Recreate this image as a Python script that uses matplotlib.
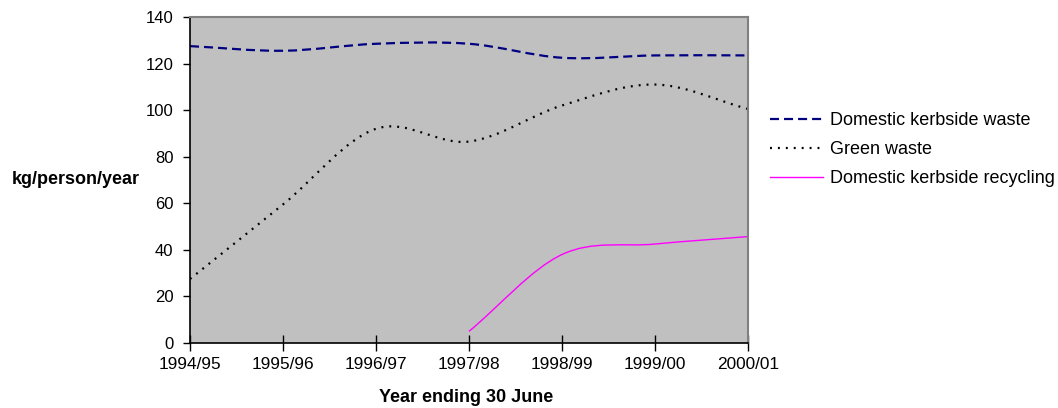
import matplotlib
matplotlib.use("Agg")
import matplotlib.pyplot as plt
from matplotlib.path import Path
from matplotlib.patches import PathPatch
from matplotlib.lines import Line2D
import numpy as np

plt.rcParams['font.family'] = ['Liberation Sans', 'DejaVu Sans']
plt.rcParams['lines.scale_dashes'] = False

years = ["1994/95", "1995/96", "1996/97", "1997/98", "1998/99", "1999/00", "2000/01"]
kerbside_waste = [127.5, 125.5, 128.5, 128.5, 122.5, 123.5, 123.5]
green_waste = [27.5, 59.5, 92.0, 86.5, 102.0, 111.0, 100.5]
recycling_years = ["1997/98", "1998/99", "1999/00", "2000/01"]
kerbside_recycling = [5.0, 38.0, 42.5, 45.7]

series_names = ["Domestic kerbside waste", "Green waste", "Domestic kerbside recycling"]


def smooth_path(xs, ys):
    xs = np.asarray(xs, float)
    ys = np.asarray(ys, float)
    n = len(xs)
    m = np.zeros(n)
    for i in range(n):
        if i == 0:
            m[i] = (ys[1] - ys[0])
        elif i == n - 1:
            m[i] = (ys[-1] - ys[-2])
        else:
            m[i] = (ys[i + 1] - ys[i - 1]) / 2
    verts = [(xs[0], ys[0])]
    codes = [Path.MOVETO]
    for i in range(n - 1):
        dx = xs[i + 1] - xs[i]
        verts += [(xs[i] + dx / 3, ys[i] + m[i] * dx / 3),
                  (xs[i + 1] - dx / 3, ys[i + 1] - m[i + 1] * dx / 3),
                  (xs[i + 1], ys[i + 1])]
        codes += [Path.CURVE4] * 3
    return Path(verts, codes)


fig = plt.figure(figsize=(10.58, 4.08), dpi=100)
ax = fig.add_axes([190 / 1058, 1 - 343 / 408, (748 - 190) / 1058, (343 - 17) / 408])
ax.set_facecolor('#C0C0C0')

x_all = np.arange(len(years))
x_rec = np.array([years.index(y) for y in recycling_years])

styles = [
    dict(color='#000080', lw=1.6, ls=(0, (6.5, 3.6))),
    dict(color='black', lw=1.6, ls=(0, (1.4, 4.3))),
    dict(color='#FF00FF', lw=1.0, ls='-'),
]

for (xs, ys), st in zip([(x_all, kerbside_waste), (x_all, green_waste), (x_rec, kerbside_recycling)], styles):
    p = PathPatch(smooth_path(xs, ys), fill=False, edgecolor=st['color'], lw=st['lw'],
                  linestyle=st['ls'], capstyle='butt', joinstyle='round')
    ax.add_patch(p)

ax.set_xlim(0, len(years) - 1)
ax.set_ylim(0, 140)
ax.set_xticks(x_all)
ax.set_xticklabels(years)
ax.set_yticks(np.arange(0, 141, 20))

for s in ['top', 'right']:
    ax.spines[s].set_color('#808080')
    ax.spines[s].set_linewidth(1.5)
for s in ['left', 'bottom']:
    ax.spines[s].set_color('black')
    ax.spines[s].set_linewidth(1.2)

ax.tick_params(axis='y', direction='out', length=5, width=1, labelsize=12, pad=7)
ax.tick_params(axis='x', direction='inout', length=12, width=1, labelsize=12.4, pad=4)

fig.text(76 / 1058, 1 - 179 / 408, "kg/person/year", fontsize=13, fontweight='bold',
         ha='center', va='center')
fig.text(466.5 / 1058, 1 - 397 / 408, "Year ending 30 June", fontsize=13, fontweight='bold',
         ha='center', va='center')

handles = [Line2D([0], [0], color=st['color'], lw=st['lw'], ls=st['ls']) for st in styles]
fig.legend(handles, series_names, loc='upper left', bbox_to_anchor=(770 / 1058, 1 - 112 / 408),
           frameon=False, fontsize=13, handlelength=2.94, handletextpad=0.39, labelspacing=0.66,
           borderaxespad=0, borderpad=0)

fig.savefig("out.png", dpi=100)
